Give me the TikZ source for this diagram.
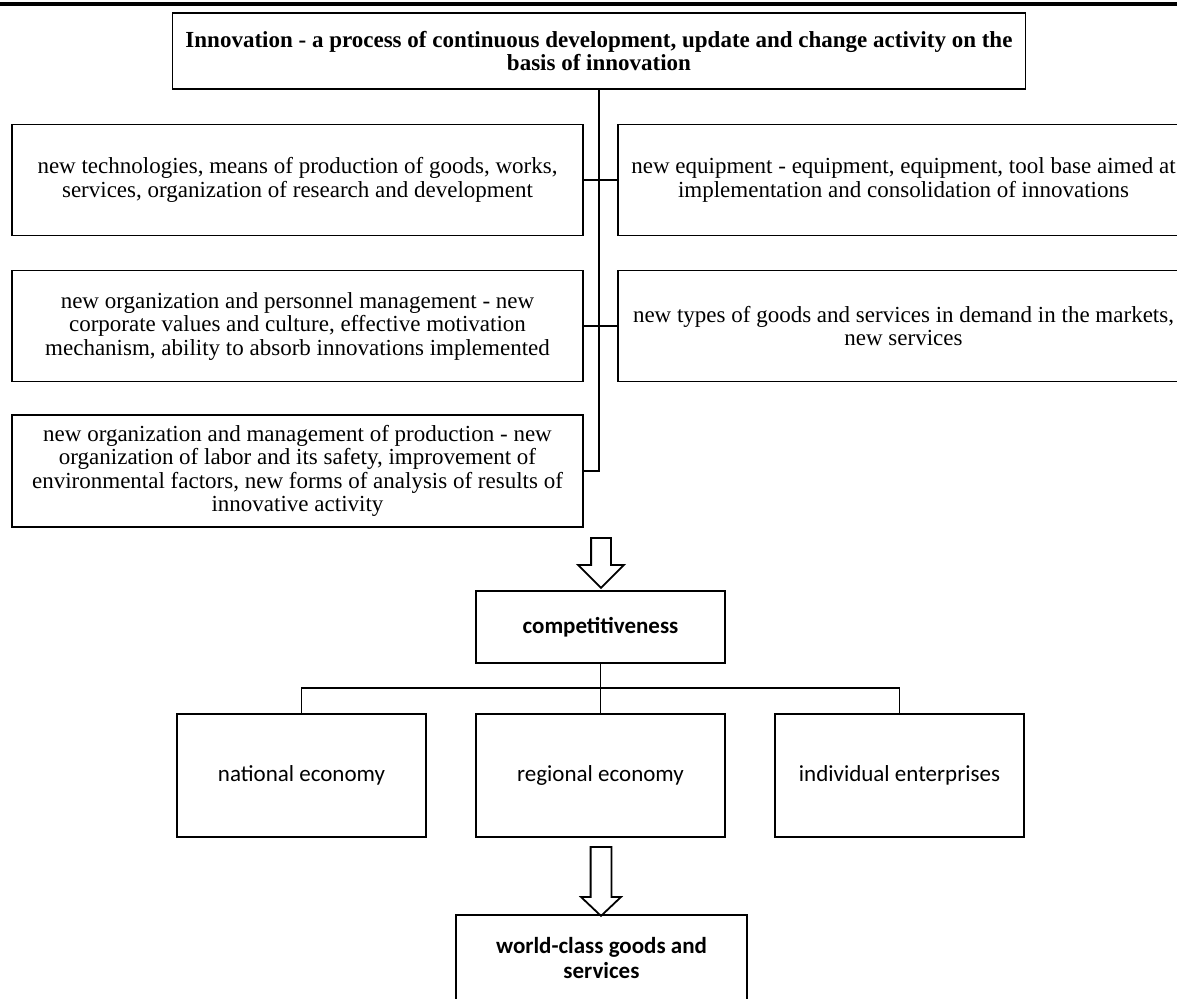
\documentclass[tikz,border=0pt]{standalone}
\usepackage{fontspec}
\setmainfont{Liberation Serif}
\newfontfamily\calfont{Carlito}
\usetikzlibrary{shapes.arrows,positioning}

\tikzset{
  box/.style={draw,line width=1.8pt,inner sep=3pt,align=center,
    font=\fontsize{23}{23.5}\selectfont},
  sidebox/.style={box,minimum width=571pt,minimum height=111pt},
  lowbox/.style={box,font=\calfont\fontsize{23}{25}\selectfont,
    minimum width=249pt},
  boldlow/.style={lowbox,font=\calfont\bfseries\fontsize{23}{25}\selectfont},
  conn/.style={line width=1.8pt},
  hollowarrow/.style={single arrow,draw,line width=1.8pt,
    shape border rotate=270}
}

\begin{document}
\begin{tikzpicture}[x=1pt,y=-1pt,line cap=rect,line join=miter]
\useasboundingbox (0,0) rectangle (1177,998);
% rule at the top of the page
\draw[line width=4pt] (0,4) -- (1177,4);

\node[box,font=\bfseries\fontsize{23}{21}\selectfont,minimum width=853pt,minimum height=76pt] (innov) at (599,51)
  {Innovation - a process of continuous development, update and change activity on the\\ basis of innovation};

\node[sidebox] (tech) at (297.5,180)
  {new technologies, means of production of goods, works,\\ services, organization of research and development};
\node[sidebox] (equip) at (903.5,180)
  {new equipment - equipment, equipment, tool base aimed at\\ implementation and consolidation of innovations};
\node[sidebox] (staff) at (297.5,326)
  {new organization and personnel management - new\\ corporate values and culture, effective motivation\\ mechanism, ability to absorb innovations implemented};
\node[sidebox] (goods) at (903.5,326)
  {new types of goods and services in demand in the markets,\\ new services};
\node[sidebox,minimum height=112pt] (prod) at (297.5,471)
  {new organization and management of production - new\\ organization of labor and its safety, improvement of\\ environmental factors, new forms of analysis of results of\\ innovative activity};

\draw[conn] (innov.south) |- (prod.east);
\draw[conn] (tech.east) -- (equip.west);
\draw[conn] (staff.east) -- (goods.west);

\node[hollowarrow,inner sep=9pt,single arrow head extend=13pt,
  single arrow tip angle=90,minimum height=50pt] (arrA) at (601,558) {};

\node[boldlow,minimum height=72pt] (comp) at (600.5,627) {competitiveness};

\node[lowbox,minimum height=123pt] (nat) at (301.5,775.5) {national economy};
\node[lowbox,minimum height=123pt] (reg) at (600.5,775.5) {regional economy};
\node[lowbox,minimum height=123pt] (ind) at (899.5,775.5) {individual enterprises};

\draw[conn] (comp.south) -- (reg.north);
\draw[conn] (nat.north) -- ++(0,-25) -| (ind.north);

\node[hollowarrow,inner sep=9.5pt,single arrow head extend=9.5pt,
  single arrow tip angle=93,minimum height=69pt] (arrB) at (601,876.5) {};

\node[boldlow,minimum width=291pt,minimum height=87pt] (world) at (601.5,958.5)
  {world-class goods and\\ services};
\end{tikzpicture}
\end{document}
